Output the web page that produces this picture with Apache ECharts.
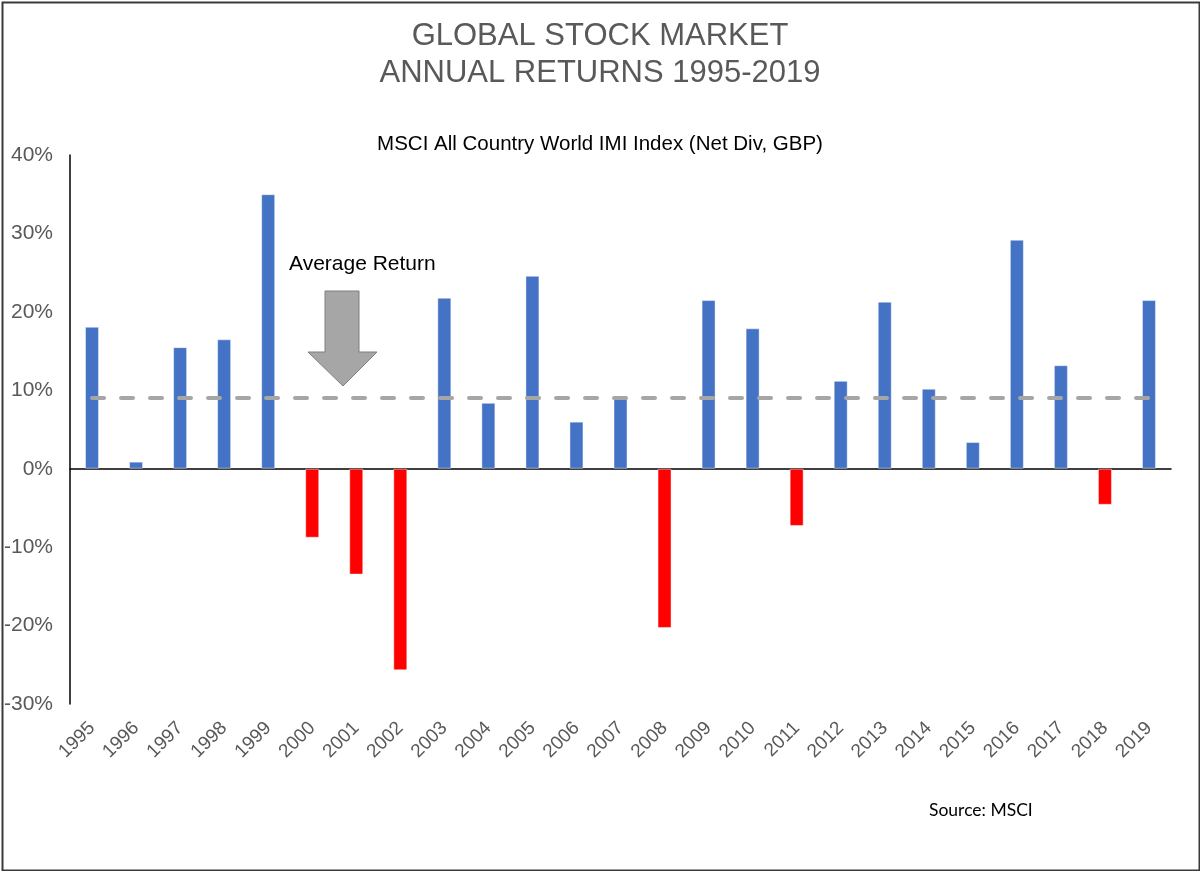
<!DOCTYPE html>
<html>
<head>
<meta charset="utf-8">
<script src="https://cdn.jsdelivr.net/npm/echarts@6/dist/echarts.min.js"></script>
<style>
  html, body { margin: 0; padding: 0; background: #fff; }
  #chart { width: 1200px; height: 871px; }
</style>
</head>
<body>
<div id="chart"></div>
<script>
// 数据：年度回报（%），读自原图
const years = ['1995', '1996', '1997', '1998', '1999', '2000', '2001', '2002', '2003', '2004',
  '2005', '2006', '2007', '2008', '2009', '2010', '2011', '2012', '2013', '2014',
  '2015', '2016', '2017', '2018', '2019'];
const returns = [18.1, 0.9, 15.5, 16.5, 35.0, -8.8, -13.5, -25.7, 21.8, 8.4,
  24.6, 6.0, 9.1, -20.3, 21.5, 17.9, -7.3, 11.2, 21.3, 10.2,
  3.4, 29.2, 13.2, -4.6, 21.5];
const averageReturn = 9.0;
const yTicks = { min: -30, max: 40, step: 10 };

const chart = echarts.init(document.getElementById('chart'));

const option = {
  backgroundColor: '#fff',
  animation: false,
  title: [
    {
      text: 'GLOBAL STOCK MARKET\nANNUAL RETURNS 1995-2019',
      left: 'center', top: 13,
      textStyle: { fontFamily: 'Liberation Sans', fontSize: 31, fontWeight: 'normal', color: '#595959', lineHeight: 37 }
    },
    {
      text: 'MSCI All Country World IMI Index (Net Div, GBP)',
      left: 'center', top: 129,
      textStyle: { fontFamily: 'Liberation Sans', fontSize: 20.5, fontWeight: 'normal', color: '#000' }
    }
  ],
  grid: { left: 70, right: 29, top: 155, bottom: 167 },
  xAxis: {
    type: 'category',
    data: years,
    axisLine: { onZero: true, lineStyle: { color: '#000', width: 1.5 } },
    axisTick: { show: false },
    axisLabel: {
      rotate: 45, interval: 0, margin: 21,
      fontFamily: 'Liberation Sans', fontSize: 19, color: '#595959'
    }
  },
  yAxis: {
    type: 'value',
    min: yTicks.min, max: yTicks.max, interval: yTicks.step,
    axisLine: { show: true, lineStyle: { color: '#000', width: 1.5 } },
    axisTick: { show: false },
    splitLine: { show: false },
    axisLabel: {
      formatter: '{value}%', margin: 17,
      fontFamily: 'Liberation Sans', fontSize: 21, color: '#595959'
    }
  },
  series: [
    {
      type: 'bar',
      data: returns,
      barWidth: 14,
      itemStyle: {
        color: p => p.value < 0 ? '#FF0000' : '#4472C4',
        borderColor: 'rgba(255,255,255,0.45)',
        borderWidth: 1
      },
      markLine: {
        silent: true,
        symbol: 'none',
        label: { show: false },
        z: 10,
        lineStyle: { color: '#A6A6A6', width: 4, type: [12, 17], cap: 'round' },
        data: [[{ coord: [years[0], averageReturn] }, { coord: [years[years.length - 1], averageReturn] }]]
      }
    }
  ],
  graphic: [
    {
      type: 'rect', left: 0, top: 0, z: 100, silent: true,
      shape: { x: 1, y: 1, width: 1197, height: 868 },
      style: { fill: 'none', stroke: '#3a3a3a', lineWidth: 2 }
    },
    {
      type: 'text', left: 289, top: 254,
      style: { text: 'Average Return', fontFamily: 'Liberation Sans', fontSize: 21, fill: '#000' }
    },
    {
      type: 'polygon', z: 50,
      shape: { points: [[325, 291], [359, 291], [359, 352], [377, 352], [343, 386], [308, 352], [325, 352]] },
      style: { fill: '#A6A6A6', stroke: '#7F7F7F', lineWidth: 1 }
    },
    {
      type: 'text', left: 929, top: 801,
      style: { text: 'Source: MSCI', fontFamily: 'Lato', fontSize: 17.5, fill: '#000' }
    }
  ]
};

chart.setOption(option);
</script>
</body>
</html>
